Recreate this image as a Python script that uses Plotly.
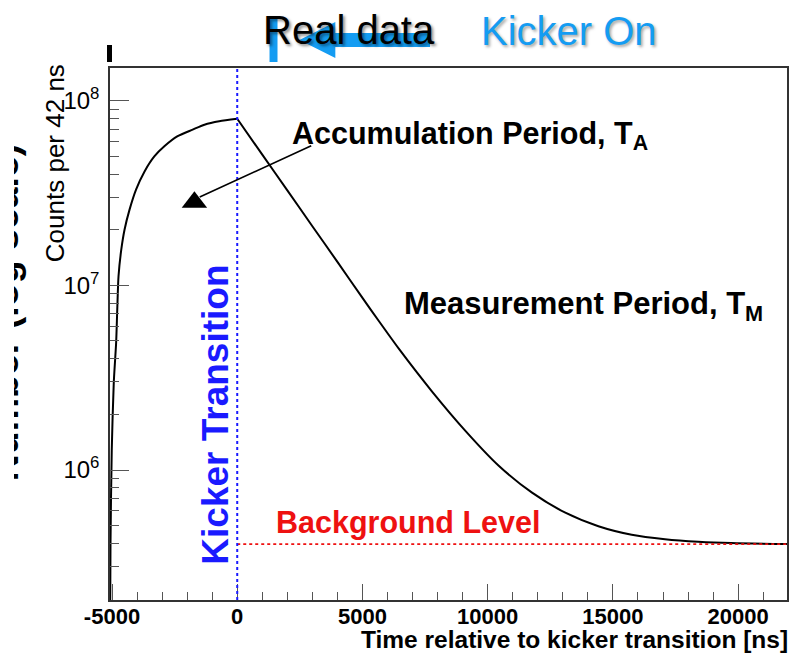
import plotly.graph_objects as go

# ---------------- data ----------------
RISE_T = [-5075, -5060, -5010, -4930, -4835, -4790, -4740, -4630, -4500, -4300,
          -4040, -3700, -3310, -2910, -2380, -1780, -1310, -720, 0]
RISE_COUNTS = [1.5e5, 4.0e5, 1.28e6, 2.96e6, 4.9e6, 7.4e6, 1.12e7, 1.56e7, 2.0e7, 2.57e7,
               3.3e7, 4.14e7, 4.99e7, 5.66e7, 6.42e7, 6.97e7, 7.41e7, 7.74e7, 7.98e7]
DECAY_T = [0, 1000, 2000, 3000, 4000, 5000, 5660, 6450, 7780, 9110, 10440,
           11770, 13100, 14420, 15750, 17080, 18410, 19730, 21950]
DECAY_COUNTS = [7.98e7, 5.1e7, 3.27e7, 2.09e7, 1.34e7, 8.55e6, 6.39e6, 4.54e6, 2.66e6, 1.63e6,
                1.055e6, 7.54e5, 5.87e5, 4.96e5, 4.46e5, 4.22e5, 4.09e5, 4.02e5, 3.975e5]

KICKER_T = [0]
BACKGROUND_T = [0, 21950]
BACKGROUND_COUNTS = [3.97e5, 3.97e5]
ARROW_TIP_T = [-1710]
ARROW_TIP_COUNTS = [2.82e7]

X_TICKS = [-5000, 0, 5000, 10000, 15000, 20000]
X_TICK_TEXT = ["-5000", "0", "5000", "10000", "15000", "20000"]
Y_TICKS = [1e6, 1e7, 1e8]
Y_TICK_TEXT = ["10<sup>6</sup>", "10<sup>7</sup>", "10<sup>8</sup>"]

X_RANGE = [-5080, 21950]
Y_RANGE_LOG = [5.296, 8.177]

# ---------------- layout helpers ----------------
W, H = 792, 656
PL, PR, PT, PB = 110, 789, 68, 600
FONT = "Liberation Sans, Arial, Helvetica, sans-serif"


def xp(px):
    return (px - PL) / (PR - PL)


def yp(py):
    return (PB - py) / (PB - PT)


x_minor = [v for v in range(-5000, 22001, 1000) if v % 5000 != 0]
y_minor = [m * 10 ** e for e in range(5, 9) for m in range(2, 10)]

fig = go.Figure()

for tx, ty in ((RISE_T, RISE_COUNTS), (DECAY_T, DECAY_COUNTS)):
    fig.add_trace(go.Scatter(
        x=tx, y=ty, mode="lines",
        line=dict(color="black", width=2, shape="spline", smoothing=0.7),
        showlegend=False, hoverinfo="skip"))

fig.add_trace(go.Scatter(
    x=BACKGROUND_T, y=BACKGROUND_COUNTS, mode="lines",
    line=dict(color="#ee1111", width=1.6, dash="dot"), showlegend=False, hoverinfo="skip"))

fig.add_trace(go.Scatter(
    x=ARROW_TIP_T, y=ARROW_TIP_COUNTS, mode="markers",
    marker=dict(symbol="triangle-up", size=22, color="black"),
    showlegend=False, hoverinfo="skip", cliponaxis=False))

shapes = []
# kicker transition line
shapes.append(dict(type="line", xref="x", yref="paper", x0=KICKER_T[0], x1=KICKER_T[0],
                   y0=0, y1=1, line=dict(color="#1a1aff", width=2, dash="dot"), layer="above"))
# slide decorations on top
shapes.append(dict(type="rect", xref="paper", yref="paper",
                   x0=xp(270), x1=xp(278), y0=yp(62), y1=yp(18),
                   fillcolor="#149cf2", line=dict(width=0)))
shapes.append(dict(type="path", xref="paper", yref="paper",
                   path="M {} {} L {} {} L {} {} L {} {} L {} {} L {} {} L {} {} Z".format(
                       xp(300), yp(40), xp(336), yp(22), xp(336), yp(33), xp(431), yp(33),
                       xp(431), yp(47), xp(336), yp(47), xp(336), yp(58)),
                   fillcolor="#149cf2", line=dict(width=0)))
shapes.append(dict(type="rect", xref="paper", yref="paper",
                   x0=xp(107), x1=xp(112), y0=yp(62), y1=yp(45),
                   fillcolor="black", line=dict(width=0)))

ann = []
# big clipped slide label on the far left
ann.append(dict(text="<b>Number (log scale)</b>", textangle=-90, xref="paper", yref="paper",
                x=xp(28), y=yp(312), xanchor="right", yanchor="middle", showarrow=False,
                font=dict(family=FONT, size=37.5, color="black")))
# white cover that clips its left part
ann.append(dict(text="<span style='color:white'>cover</span>", xref="paper", yref="paper",
                x=xp(-30), y=yp(312),
                xanchor="left", yanchor="middle", width=44, height=420, bgcolor="#ffffff",
                borderpad=0, borderwidth=0, showarrow=False,
                font=dict(size=4, color="white")))
# slide title items
ann.append(dict(text="Real data", xref="paper", yref="paper", x=xp(261), y=yp(30),
                xanchor="left", yanchor="middle", showarrow=False,
                font=dict(family=FONT, size=40, color="black",
                          shadow="2px 2px 3px rgba(0,0,0,0.45)")))
ann.append(dict(text="Kicker On", xref="paper", yref="paper", x=xp(480), y=yp(31),
                xanchor="left", yanchor="middle", showarrow=False,
                font=dict(family=FONT, size=40, color="#149cf2",
                          shadow="2px 2px 3px rgba(0,0,0,0.35)")))
# axis titles
ann.append(dict(text="Counts per 42 ns", textangle=-90, xref="paper", yref="paper",
                x=xp(55), y=yp(62), xanchor="center", yanchor="top", showarrow=False,
                font=dict(family=FONT, size=26, color="black")))
ann.append(dict(text="<b>Time relative to kicker transition [ns]</b>", xref="paper", yref="paper",
                x=xp(792), y=yp(639), xanchor="right", yanchor="middle", showarrow=False,
                font=dict(family=FONT, size=24.5, color="black")))
# in-plot labels
ann.append(dict(text="<b>Accumulation Period, T<sub>A</sub></b>", xref="paper", yref="paper",
                x=xp(291), y=yp(135), xanchor="left", yanchor="middle", showarrow=False,
                font=dict(family=FONT, size=30.5, color="black")))
ann.append(dict(text="<b>Measurement Period, T<sub>M</sub></b>", xref="paper", yref="paper",
                x=xp(403), y=yp(306), xanchor="left", yanchor="middle", showarrow=False,
                font=dict(family=FONT, size=31, color="black")))
ann.append(dict(text="<b>Background Level</b>", xref="paper", yref="paper",
                x=xp(274), y=yp(522), xanchor="left", yanchor="middle", showarrow=False,
                font=dict(family=FONT, size=30.5, color="#ee1111")))
ann.append(dict(text="<b>Kicker Transition</b>", textangle=-90, xref="paper", yref="paper",
                x=xp(215), y=yp(415), xanchor="center", yanchor="middle", showarrow=False,
                font=dict(family=FONT, size=37, color="#1a1aff")))
# arrow shaft
ann.append(dict(text="", xref="paper", yref="paper", x=xp(200), y=yp(197),
                ax=113, ay=-52, showarrow=True, arrowhead=0, arrowwidth=1.6,
                arrowcolor="black"))

axis_common = dict(showline=True, mirror=True, linecolor="#333333", linewidth=1.5,
                   showgrid=False, zeroline=False, ticks="inside",
                   tickcolor="#555555", tickwidth=1.3)

fig.update_layout(
    width=W, height=H,
    margin=dict(l=PL, r=W - PR, t=PT, b=H - PB, pad=0),
    paper_bgcolor="white", plot_bgcolor="white",
    font=dict(family=FONT, color="black"),
    xaxis=dict(range=X_RANGE, tickmode="array", tickvals=X_TICKS, ticktext=X_TICK_TEXT,
               ticklen=16, ticklabelstandoff=-4,
               tickfont=dict(family=FONT, size=22, weight="bold"),
               minor=dict(tickmode="array", tickvals=x_minor, ticks="inside", ticklen=8,
                          tickcolor="#555555", tickwidth=1.3),
               **axis_common),
    yaxis=dict(type="log", range=Y_RANGE_LOG, tickmode="array", tickvals=Y_TICKS,
               ticktext=Y_TICK_TEXT, ticklen=19, ticklabelstandoff=4,
               tickfont=dict(family=FONT, size=24),
               minor=dict(tickmode="array", tickvals=y_minor, ticks="inside", ticklen=9,
                          tickcolor="#555555", tickwidth=1.3),
               **axis_common),
    shapes=shapes,
    annotations=ann,
    showlegend=False,
)

fig.write_html("out.html")
